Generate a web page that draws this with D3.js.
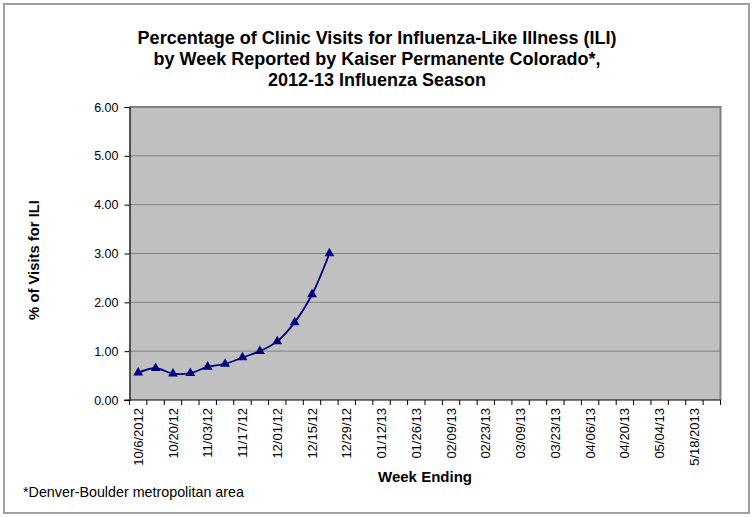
<!DOCTYPE html>
<html>
<head>
<meta charset="utf-8">
<script src="https://cdn.jsdelivr.net/npm/d3@7"></script>
<style>
  body { margin: 0; background: #fff; }
  svg { display: block; font-family: "Liberation Sans", Arial, sans-serif; }
</style>
</head>
<body>
<svg width="753" height="517"></svg>
<script>
// week ending dates, 2012-13 season
const weeks = ["10/6/2012", "10/13/12", "10/20/12", "10/27/12", "11/03/12", "11/10/12",
  "11/17/12", "11/24/12", "12/01/12", "12/08/12", "12/15/12", "12/22/12", "12/29/12",
  "01/05/13", "01/12/13", "01/19/13", "01/26/13", "02/02/13", "02/09/13", "02/16/13",
  "02/23/13", "03/02/13", "03/09/13", "03/16/13", "03/23/13", "03/30/13", "04/06/13",
  "04/13/13", "04/20/13", "04/27/13", "05/04/13", "05/11/13", "5/18/2013", "5/25/2013"];

// % of visits for ILI, reported so far
const iliValues = [0.56, 0.65, 0.54, 0.55, 0.68, 0.74, 0.87, 1.00, 1.20, 1.59, 2.16, 3.00];

const yTicks = [0, 1, 2, 3, 4, 5, 6];

const titleLines = [
  "Percentage of Clinic Visits for Influenza-Like Illness (ILI)",
  "by Week Reported by Kaiser Permanente Colorado*,",
  "2012-13 Influenza Season"
];

const svg = d3.select("svg");

const plot = { left: 129.5, right: 720.5, top: 107, bottom: 400 };

const x = d3.scaleBand()
    .domain(weeks)
    .range([plot.left, plot.right])
    .padding(0);

const y = d3.scaleLinear()
    .domain([0, 6])
    .range([plot.bottom, plot.top]);

// outer frame
svg.append("rect")
    .attr("x", 4).attr("y", 4)
    .attr("width", 745).attr("height", 509)
    .attr("fill", "none")
    .attr("stroke", "#a0a0a0")
    .attr("stroke-width", 2);

// title
svg.append("g")
    .selectAll("text")
    .data(titleLines)
    .join("text")
    .attr("x", 377)
    .attr("y", (d, i) => 44 + i * 21)
    .attr("text-anchor", "middle")
    .attr("font-size", 18)
    .attr("font-weight", "bold")
    .attr("fill", "#000")
    .text(d => d);

// plot background
svg.append("rect")
    .attr("x", plot.left).attr("y", plot.top)
    .attr("width", plot.right - plot.left)
    .attr("height", plot.bottom - plot.top)
    .attr("fill", "#c0c0c0");

// gridlines
svg.append("g")
    .selectAll("line")
    .data(yTicks.filter(d => d > 0))
    .join("line")
    .attr("x1", plot.left).attr("x2", plot.right)
    .attr("y1", d => y(d)).attr("y2", d => y(d))
    .attr("stroke", "#808080")
    .attr("stroke-width", 1);

// plot border (top + right)
svg.append("path")
    .attr("d", `M${plot.left},${plot.top}H${plot.right}V${plot.bottom}`)
    .attr("fill", "none")
    .attr("stroke", "#808080")
    .attr("stroke-width", 2);

// y axis
const yAxis = svg.append("g")
    .attr("transform", `translate(${plot.left},0)`)
    .call(d3.axisLeft(y)
        .tickValues(yTicks)
        .tickSize(5)
        .tickPadding(6)
        .tickFormat(d3.format(".2f")));
yAxis.select(".domain").attr("stroke", "#000").attr("stroke-width", 1.2);
yAxis.selectAll("line").attr("stroke", "#000");
yAxis.selectAll("text")
    .attr("font-size", 12.5)
    .attr("font-family", "Liberation Sans, Arial, sans-serif")
    .attr("fill", "#000");

// x axis line and boundary ticks
svg.append("line")
    .attr("x1", plot.left - 5).attr("x2", plot.right)
    .attr("y1", plot.bottom).attr("y2", plot.bottom)
    .attr("stroke", "#000")
    .attr("stroke-width", 1.2);

svg.append("g")
    .selectAll("line")
    .data(weeks.map(w => x(w)).concat([plot.right]))
    .join("line")
    .attr("x1", d => d).attr("x2", d => d)
    .attr("y1", plot.bottom).attr("y2", plot.bottom + 5)
    .attr("stroke", "#000");

// x labels, every other week
svg.append("g")
    .selectAll("text")
    .data(weeks.filter((d, i) => i % 2 === 0))
    .join("text")
    .attr("transform", d => `translate(${x(d) + x.bandwidth() / 2},${plot.bottom + 8}) rotate(-90)`)
    .attr("text-anchor", "end")
    .attr("dy", "0.35em")
    .attr("font-size", 13)
    .attr("fill", "#000")
    .text(d => d);

// axis titles
svg.append("text")
    .attr("x", (plot.left + plot.right) / 2)
    .attr("y", 482)
    .attr("text-anchor", "middle")
    .attr("font-size", 15)
    .attr("font-weight", "bold")
    .text("Week Ending");

svg.append("text")
    .attr("transform", "translate(39,260) rotate(-90)")
    .attr("text-anchor", "middle")
    .attr("font-size", 14.8)
    .attr("font-weight", "bold")
    .text("% of Visits for ILI");

// series line
const pts = iliValues.map((v, i) => [x(weeks[i]) + x.bandwidth() / 2, y(v)]);

svg.append("path")
    .attr("d", d3.line().curve(d3.curveCatmullRom.alpha(0.5))(pts))
    .attr("fill", "none")
    .attr("stroke", "#000080")
    .attr("stroke-width", 1.8);

svg.append("g")
    .selectAll("path")
    .data(pts)
    .join("path")
    .attr("transform", d => `translate(${d[0]},${d[1]})`)
    .attr("d", d3.symbol(d3.symbolTriangle, 42))
    .attr("fill", "#000080");

// footnote
svg.append("text")
    .attr("x", 23)
    .attr("y", 497)
    .attr("font-size", 14.3)
    .attr("fill", "#000")
    .text("*Denver-Boulder metropolitan area");
</script>
</body>
</html>
